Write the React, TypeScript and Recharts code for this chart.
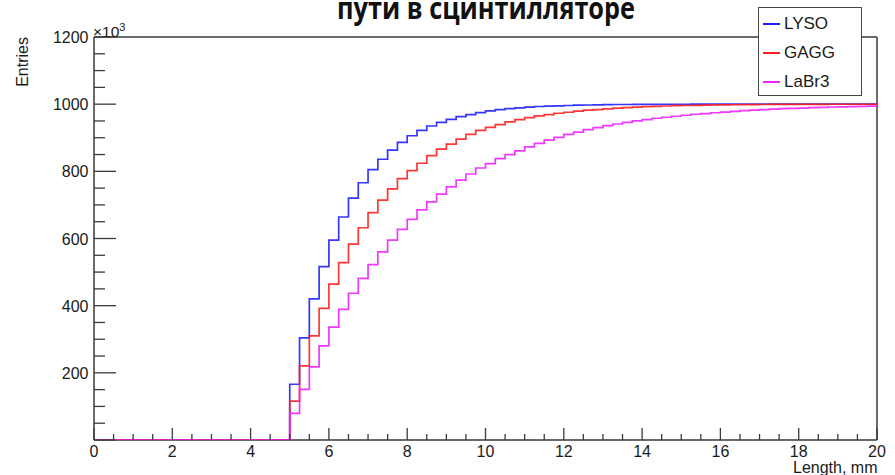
import React from 'react';
import { LineChart, Line, XAxis, YAxis, ReferenceLine } from 'recharts';

// ---- data (entries in units of 10^3), one value per 0.25 mm bin, bins start at 0 mm ----
const BIN_WIDTH = 0.25;
const X_MAX = 20;

const lysoValues = [
  0, 0, 0, 0, 0, 0, 0, 0, 0, 0, 0, 0, 0, 0, 0, 0, 0, 0, 0, 0,
  166, 304, 420, 516, 595, 664, 720, 766, 805, 836, 863, 886, 906, 922, 935, 946, 955, 963, 969, 975,
  980, 984, 987, 989, 991, 993, 994, 995, 996, 997, 997.5, 998, 998.5, 999, 999, 999.3, 999.5, 999.6, 999.7, 999.8,
  999.8, 999.9, 999.9, 999.9, 999.9, 1000, 1000, 1000, 1000, 1000, 1000, 1000, 1000, 1000, 1000, 1000, 1000, 1000, 1000, 1000,
];

const gaggValues = [
  0, 0, 0, 0, 0, 0, 0, 0, 0, 0, 0, 0, 0, 0, 0, 0, 0, 0, 0, 0,
  116, 221, 310, 392, 464, 528, 583, 632, 677, 714, 748, 778, 802, 824, 847, 866, 881, 896, 910, 922,
  931, 939, 947, 954, 960, 965, 969, 973, 976, 979, 982, 984, 986, 988, 989.5, 991, 992.5, 993.5, 994.5, 995.5,
  996, 996.7, 997.2, 997.6, 998, 998.3, 998.6, 998.8, 999, 999.1, 999.3, 999.4, 999.5, 999.6, 999.6, 999.7, 999.7, 999.8, 999.8, 999.8,
];

const labr3Values = [
  0, 0, 0, 0, 0, 0, 0, 0, 0, 0, 0, 0, 0, 0, 0, 0, 0, 0, 0, 0,
  79, 151, 218, 280, 336, 389, 437, 481, 522, 560, 595, 627, 657, 685, 709, 732, 754, 774, 792, 810,
  823, 838, 850, 861, 873, 883, 893, 901, 910, 917, 924, 930, 936, 941, 946, 950, 954, 958, 961, 964,
  967, 970, 972, 974.5, 976.5, 978.5, 980.5, 982, 983.5, 985, 986.5, 987.5, 988.5, 989.5, 990.5, 991.5, 992, 992.8, 993.5, 994,
];

const seriesNames = ['LYSO', 'GAGG', 'LaBr3'];
const seriesKeys = ['lyso', 'gagg', 'labr3'];
const seriesColors = ['#1f1fff', '#ff2020', '#ee22ff'];

const xMajorLabels = [0, 2, 4, 6, 8, 10, 12, 14, 16, 18, 20];
const xMinorStep = 0.5;
const yMajorLabels = [200, 400, 600, 800, 1000, 1200];
const yMinorStep = 50;
const Y_MAX = 1200;

const titleText = 'пути в сцинтилляторе';
const xTitle = 'Length, mm';
const yTitle = 'Entries';

// ---- table built from the arrays ----
const allSeries = [lysoValues, gaggValues, labr3Values];
const table = lysoValues.map((_, i) => {
  const row: Record<string, number> = { x: i * BIN_WIDTH };
  seriesKeys.forEach((k, s) => (row[k] = allSeries[s][i]));
  return row;
});
{
  const last: Record<string, number> = { x: X_MAX };
  seriesKeys.forEach((k, s) => (last[k] = allSeries[s][allSeries[s].length - 1]));
  table.push(last);
}

const xTicks: number[] = [];
for (let v = 0; v <= X_MAX + 1e-9; v += xMinorStep) xTicks.push(Math.round(v * 100) / 100);
const yTicks: number[] = [];
for (let v = 0; v <= Y_MAX; v += yMinorStep) yTicks.push(v);

const FONT = '"Liberation Sans", Arial, Helvetica, sans-serif';
const AXIS = '#3a3a3a';
const TEXT = '#1a1a1a';

const XTick = (props: any) => {
  const { x, y, payload } = props;
  const v = payload.value;
  const major = xMajorLabels.includes(v);
  return (
    <g>
      <line x1={x} x2={x} y1={y} y2={y - (major ? 12 : 6)} stroke={AXIS} strokeWidth={1.3} />
      {major && (
        <text x={x} y={y + 17} textAnchor="middle" fontSize={16} fill={TEXT} fontFamily={FONT}>
          {v}
        </text>
      )}
    </g>
  );
};

const YTick = (props: any) => {
  const { x, y, payload } = props;
  const v = payload.value;
  const major = v % 200 === 0;
  return (
    <g>
      <line x1={x} x2={x + (major ? 22 : 11)} y1={y} y2={y} stroke={AXIS} strokeWidth={1.3} />
      {yMajorLabels.includes(v) && (
        <text x={x - 5.5} y={y + 6} textAnchor="end" fontSize={16} fill={TEXT} fontFamily={FONT}>
          {v}
        </text>
      )}
    </g>
  );
};

const YLabel = (props: any) => {
  const vb = props.viewBox || { x: 0, y: 37, width: 94, height: 403 };
  const left = vb.x + vb.width;
  const top = vb.y;
  return (
    <g>
      <text
        x={left - 66}
        y={top}
        transform={`rotate(-90, ${left - 66}, ${top})`}
        textAnchor="end"
        fontSize={16}
        fill={TEXT}
        fontFamily={FONT}
      >
        {yTitle}
      </text>
      <text x={left - 1} y={top - 0.5} fontSize={15.5} fill={TEXT} fontFamily={FONT}>
        ×10
        <tspan fontSize={11} dy={-6}>
          3
        </tspan>
      </text>
    </g>
  );
};

const XLabel = (props: any) => {
  const vb = props.viewBox || { x: 94, y: 440, width: 783, height: 35 };
  return (
    <text
      x={vb.x + vb.width + 0.5}
      y={vb.y + 33}
      textAnchor="end"
      fontSize={16}
      fill={TEXT}
      fontFamily={FONT}
    >
      {xTitle}
    </text>
  );
};

export default function App() {
  return (
    <div style={{ position: 'absolute', left: 0, top: 0, width: 895, height: 475, background: '#fff' }}>
      <LineChart
        width={895}
        height={475}
        data={table}
        margin={{ top: 37, right: 18, bottom: 0, left: 0 }}
      >
        <XAxis
          dataKey="x"
          type="number"
          domain={[0, X_MAX]}
          ticks={xTicks}
          interval={0}
          tickSize={0}
          tickMargin={0}
          tickLine={false}
          tick={<XTick />}
          height={35}
          axisLine={{ stroke: AXIS, strokeWidth: 1.5 }}
          label={<XLabel />}
        />
        <YAxis
          type="number"
          domain={[0, Y_MAX]}
          ticks={yTicks}
          interval={0}
          tickSize={0}
          tickMargin={0}
          tickLine={false}
          tick={<YTick />}
          width={94}
          axisLine={{ stroke: AXIS, strokeWidth: 1.5 }}
          allowDataOverflow
          label={<YLabel />}
        />
        <ReferenceLine y={Y_MAX} stroke={AXIS} strokeWidth={1.5} />
        <ReferenceLine x={X_MAX} stroke={AXIS} strokeWidth={1.5} />
        {seriesKeys.map((k, i) => (
          <Line
            key={k}
            dataKey={k}
            name={seriesNames[i]}
            type="stepAfter"
            stroke={seriesColors[i]}
            strokeWidth={1.7}
            strokeOpacity={0.9}
            dot={false}
            activeDot={false}
            isAnimationActive={false}
            {...({ zIndex: 600 + i } as any)}
          />
        ))}
      </LineChart>

      {/* title */}
      <svg
        width={895}
        height={40}
        style={{ position: 'absolute', left: 0, top: 0, pointerEvents: 'none' }}
      >
        <text
          x={337}
          y={19}
          fontSize={30}
          fontWeight="bold"
          fill="#111"
          fontFamily='"Open Sans", "Noto Sans", sans-serif'
          textLength={298}
          lengthAdjust="spacingAndGlyphs"
        >
          {titleText}
        </text>
      </svg>

      {/* legend */}
      <div
        style={{
          position: 'absolute',
          left: 758,
          top: 7,
          width: 104,
          height: 89,
          boxSizing: 'border-box',
          border: '1.5px solid #444',
          background: '#fff',
          fontFamily: FONT,
          fontSize: 17,
          color: TEXT,
        }}
      >
        {seriesNames.map((n, i) => (
          <div
            key={n}
            style={{
              position: 'absolute',
              left: 4,
              top: 4 + i * 29,
              height: 24,
              display: 'flex',
              alignItems: 'center',
              whiteSpace: 'nowrap',
            }}
          >
            <span
              style={{
                display: 'inline-block',
                width: 17,
                height: 2,
                background: seriesColors[i],
                marginRight: 4,
              }}
            />
            <span>{n}</span>
          </div>
        ))}
      </div>
    </div>
  );
}
